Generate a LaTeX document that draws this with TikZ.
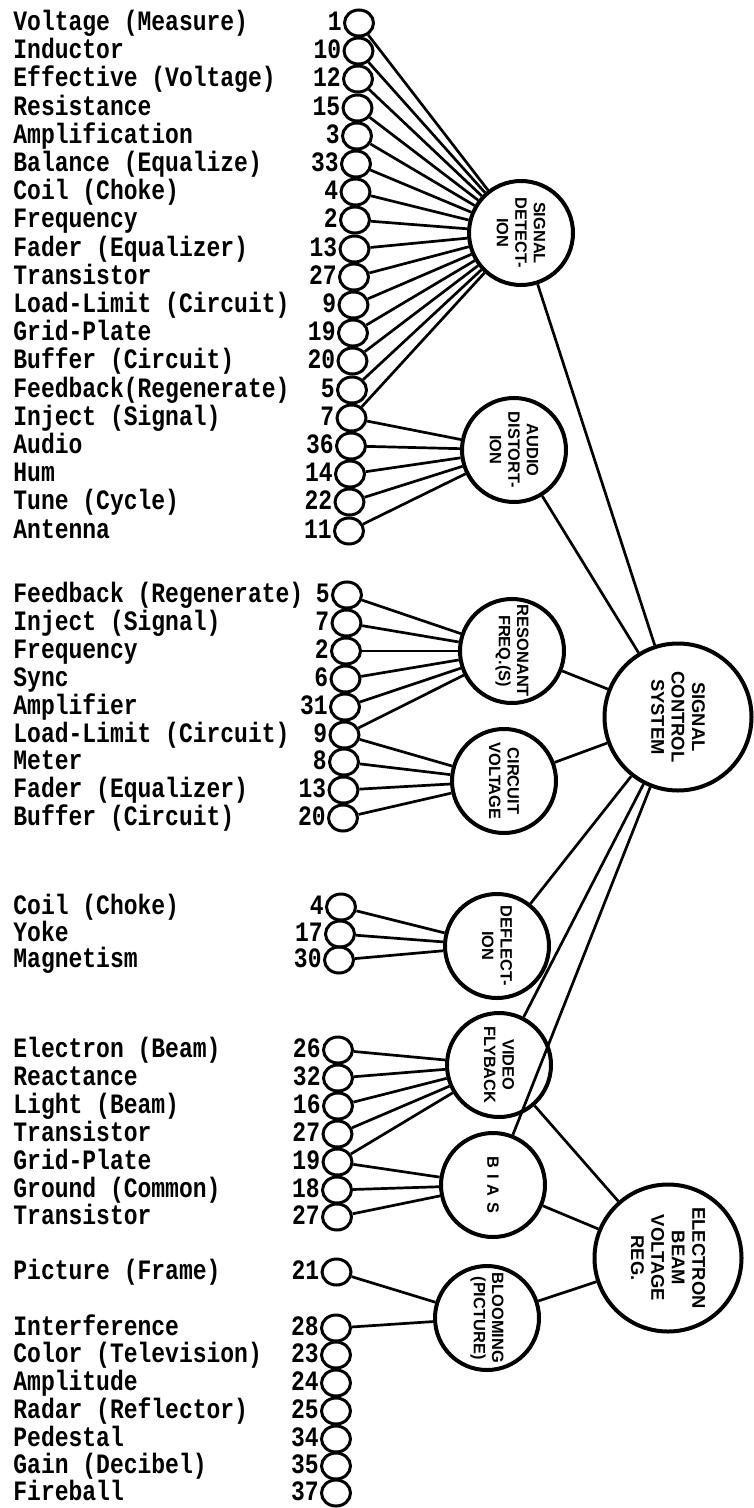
\documentclass[tikz,border=0pt]{standalone}
\usepackage{fontspec}
\setsansfont{Liberation Sans}
\setmonofont{Liberation Mono}
\usepackage{tikz}
\usetikzlibrary{shapes,positioning}

\begin{document}
\begin{tikzpicture}[x=0.5pt, y=-0.5pt]
			\tikzstyle{Term} 	= [ellipse, draw, line width=1.5pt, minimum width=14.5pt, minimum height=13pt, inner sep=0pt]
			\tikzstyle{Word}	= [anchor=west, inner sep=0pt, yscale=1.22, font=\ttfamily\bfseries\fontsize{11.5}{12}\selectfont, text height=8pt, text depth=1.5pt]
			\tikzstyle{every label}	= [inner sep=0.5pt, yscale=1.22, font=\ttfamily\bfseries\fontsize{11.5}{12}\selectfont, text height=8pt, text depth=1.5pt]
			\tikzstyle{Hub}		= [circle, draw, line width=2pt, minimum size=52pt, inner sep=0pt, rotate=-90, align=center, font=\sffamily\bfseries\fontsize{8.2}{9.2}\selectfont]
			\tikzstyle{BigHub}	= [Hub, minimum size=73.5pt, font=\sffamily\bfseries\fontsize{9.2}{10.2}\selectfont]
			\tikzstyle{Link}	= [line width=1.35pt]

			\useasboundingbox (0,0) rectangle (754,1508);

			% first column block
			\node (w1) at (13, 23) [Word] {Voltage (Measure)};
			\node (t1) at (359, 23) [Term, label={[name=n1]left:1}] {};
			\node (w10) at (13, 51) [Word] {Inductor};
			\node (t10) at (358.5, 51) [Term, label={[name=n10]left:10}] {};
			\node (w12) at (13, 79) [Word] {Effective (Voltage)};
			\node (t12) at (358, 79) [Term, label={[name=n12]left:12}] {};
			\node (w15) at (13, 108) [Word] {Resistance};
			\node (t15) at (357.5, 108) [Term, label={[name=n15]left:15}] {};
			\node (w3) at (13, 136) [Word] {Amplification};
			\node (t3) at (357, 136) [Term, label={[name=n3]left:3}] {};
			\node (w33) at (13, 164) [Word] {Balance (Equalize)};
			\node (t33) at (356, 164) [Term, label={[name=n33]left:33}] {};
			\node (w4) at (13, 192) [Word] {Coil (Choke)};
			\node (t4) at (355.5, 192) [Term, label={[name=n4]left:4}] {};
			\node (w2) at (13, 220) [Word] {Frequency};
			\node (t2) at (355, 220) [Term, label={[name=n2]left:2}] {};
			\node (w13) at (13, 249) [Word] {Fader (Equalizer)};
			\node (t13) at (354.5, 249) [Term, label={[name=n13]left:13}] {};
			\node (w27) at (13, 277) [Word] {Transistor};
			\node (t27) at (354, 277) [Term, label={[name=n27]left:27}] {};
			\node (w9) at (13, 305) [Word] {Load-Limit (Circuit)};
			\node (t9) at (353.5, 305) [Term, label={[name=n9]left:9}] {};
			\node (w19) at (13, 333) [Word] {Grid-Plate};
			\node (t19) at (353, 333) [Term, label={[name=n19]left:19}] {};
			\node (w20) at (13, 361) [Word] {Buffer (Circuit)};
			\node (t20) at (352.5, 361) [Term, label={[name=n20]left:20}] {};
			\node (w5) at (13, 390) [Word] {Feedback(Regenerate)};
			\node (t5) at (352, 390) [Term, label={[name=n5]left:5}] {};
			\node (w7) at (13, 418) [Word] {Inject (Signal)};
			\node (t7) at (351.5, 418) [Term, label={[name=n7]left:7}] {};
			\node (w36) at (13, 446) [Word] {Audio};
			\node (t36) at (351, 446) [Term, label={[name=n36]left:36}] {};
			\node (w14) at (13, 474) [Word] {Hum};
			\node (t14) at (350, 474) [Term, label={[name=n14]left:14}] {};
			\node (w22) at (13, 502) [Word] {Tune (Cycle)};
			\node (t22) at (349.5, 502) [Term, label={[name=n22]left:22}] {};
			\node (w11) at (13, 531) [Word] {Antenna};
			\node (t11) at (349, 531) [Term, label={[name=n11]left:11}] {};

			% second block
			\node (w5b) at (13, 595) [Word] {Feedback (Regenerate)};
			\node (t5b) at (347, 595) [Term, label={[name=n5b]left:5}] {};
			\node (w7b) at (13, 623) [Word] {Inject (Signal)};
			\node (t7b) at (346.5, 623) [Term, label={[name=n7b]left:7}] {};
			\node (w2b) at (13, 651) [Word] {Frequency};
			\node (t2b) at (346, 651) [Term, label={[name=n2b]left:2}] {};
			\node (w6) at (13, 679) [Word] {Sync};
			\node (t6) at (345.5, 679) [Term, label={[name=n6]left:6}] {};
			\node (w31) at (13, 707) [Word] {Amplifier};
			\node (t31) at (345, 707) [Term, label={[name=n31]left:31}] {};
			\node (w9b) at (13, 735) [Word] {Load-Limit (Circuit)};
			\node (t9b) at (344.5, 735) [Term, label={[name=n9b]left:9}] {};
			\node (w8) at (13, 762) [Word] {Meter};
			\node (t8) at (344, 762) [Term, label={[name=n8]left:8}] {};
			\node (w13b) at (13, 790) [Word] {Fader (Equalizer)};
			\node (t13b) at (343.5, 790) [Term, label={[name=n13b]left:13}] {};
			\node (w20b) at (13, 818) [Word] {Buffer (Circuit)};
			\node (t20b) at (343, 818) [Term, label={[name=n20b]left:20}] {};

			% third block
			\node (w4b) at (13, 907) [Word] {Coil (Choke)};
			\node (t4b) at (341, 907) [Term, label={[name=n4b]left:4}] {};
			\node (w17) at (13, 934) [Word] {Yoke};
			\node (t17) at (340, 934) [Term, label={[name=n17]left:17}] {};
			\node (w30) at (13, 960) [Word] {Magnetism};
			\node (t30) at (339, 960) [Term, label={[name=n30]left:30}] {};

			% fourth block
			\node (w26) at (13, 1050) [Word] {Electron (Beam)};
			\node (t26) at (338, 1050) [Term, label={[name=n26]left:26}] {};
			\node (w32) at (13, 1078) [Word] {Reactance};
			\node (t32) at (338, 1078) [Term, label={[name=n32]left:32}] {};
			\node (w16) at (13, 1106) [Word] {Light (Beam)};
			\node (t16) at (338, 1106) [Term, label={[name=n16]left:16}] {};
			\node (w27b) at (13, 1134) [Word] {Transistor};
			\node (t27b) at (337.5, 1134) [Term, label={[name=n27b]left:27}] {};
			\node (w19b) at (13, 1162) [Word] {Grid-Plate};
			\node (t19b) at (337.5, 1162) [Term, label={[name=n19b]left:19}] {};
			\node (w18) at (13, 1190) [Word] {Ground (Common)};
			\node (t18) at (337, 1190) [Term, label={[name=n18]left:18}] {};
			\node (w27c) at (13, 1217) [Word] {Transistor};
			\node (t27c) at (337, 1217) [Term, label={[name=n27c]left:27}] {};

			\node (w21) at (13, 1272) [Word] {Picture (Frame)};
			\node (t21) at (336.5, 1272) [Term, label={[name=n21]left:21}] {};

			% last block
			\node (w28) at (13, 1328) [Word] {Interference};
			\node (t28) at (336, 1328) [Term, label={[name=n28]left:28}] {};
			\node (w23) at (13, 1355) [Word] {Color (Television)};
			\node (t23) at (336, 1355) [Term, label={[name=n23]left:23}] {};
			\node (w24) at (13, 1383) [Word] {Amplitude};
			\node (t24) at (336, 1383) [Term, label={[name=n24]left:24}] {};
			\node (w25) at (13, 1411) [Word] {Radar (Reflector)};
			\node (t25) at (336, 1411) [Term, label={[name=n25]left:25}] {};
			\node (w34) at (13, 1439) [Word] {Pedestal};
			\node (t34) at (336, 1439) [Term, label={[name=n34]left:34}] {};
			\node (w35) at (13, 1466) [Word] {Gain (Decibel)};
			\node (t35) at (336, 1466) [Term, label={[name=n35]left:35}] {};
			\node (w37) at (13, 1493) [Word] {Fireball};
			\node (t37) at (336, 1493) [Term, label={[name=n37]left:37}] {};

			% hubs
			\node (sd) at (521, 233) [Hub] {SIGNAL\\DETECT-\\ION};
			\node (ad) at (514, 450) [Hub] {AUDIO\\DISTORT-\\ION};
			\node (rf) at (512, 651) [Hub] {RESONANT\\FREQ.(S)};
			\node (cv) at (504, 781) [Hub] {CIRCUIT\\VOLTAGE};
			\node (df) at (497, 946) [Hub] {DEFLECT-\\ION};
			\node (vf) at (499, 1065) [Hub] {VIDEO\\FLYBACK};
			\node (bi) at (493, 1185) [Hub] {B\kern3pt I\kern3pt A\kern3pt S};
			\node (bl) at (487, 1318) [Hub] {BLOOMING\\(PICTURE)};
			\node (scs) at (678, 717) [BigHub] {SIGNAL\\CONTROL\\SYSTEM};
			\node (eb) at (668, 1258) [BigHub] {ELECTRON\\BEAM\\VOLTAGE\\REG.};

			\draw [-] (t1) to (sd) [Link];
			\draw [-] (t10) to (sd) [Link];
			\draw [-] (t12) to (sd) [Link];
			\draw [-] (t15) to (sd) [Link];
			\draw [-] (t3) to (sd) [Link];
			\draw [-] (t33) to (sd) [Link];
			\draw [-] (t4) to (sd) [Link];
			\draw [-] (t2) to (sd) [Link];
			\draw [-] (t13) to (sd) [Link];
			\draw [-] (t27) to (sd) [Link];
			\draw [-] (t9) to (sd) [Link];
			\draw [-] (t19) to (sd) [Link];
			\draw [-] (t20) to (sd) [Link];
			\draw [-] (t5) to (sd) [Link];
			\draw [-] (t7) to (sd) [Link];

			\draw [-] (t7) to (ad) [Link];
			\draw [-] (t36) to (ad) [Link];
			\draw [-] (t14) to (ad) [Link];
			\draw [-] (t22) to (ad) [Link];
			\draw [-] (t11) to (ad) [Link];

			\draw [-] (t5b) to (rf) [Link];
			\draw [-] (t7b) to (rf) [Link];
			\draw [-] (t2b) to (rf) [Link];
			\draw [-] (t6) to (rf) [Link];
			\draw [-] (t31) to (rf) [Link];
			\draw [-] (t9b) to (rf) [Link];

			\draw [-] (t9b) to (cv) [Link];
			\draw [-] (t8) to (cv) [Link];
			\draw [-] (t13b) to (cv) [Link];
			\draw [-] (t20b) to (cv) [Link];

			\draw [-] (t4b) to (df) [Link];
			\draw [-] (t17) to (df) [Link];
			\draw [-] (t30) to (df) [Link];

			\draw [-] (t26) to (vf) [Link];
			\draw [-] (t32) to (vf) [Link];
			\draw [-] (t16) to (vf) [Link];
			\draw [-] (t27b) to (vf) [Link];
			\draw [-] (t19b) to (vf) [Link];

			\draw [-] (t19b) to (bi) [Link];
			\draw [-] (t18) to (bi) [Link];
			\draw [-] (t27c) to (bi) [Link];

			\draw [-] (t21) to (bl) [Link];
			\draw [-] (t28) to (bl) [Link];

			\draw [-] (sd) to (scs) [Link];
			\draw [-] (ad) to (scs) [Link];
			\draw [-] (rf) to (scs) [Link];
			\draw [-] (cv) to (scs) [Link];
			\draw [-] (df) to (scs) [Link];
			\draw [-] (vf) to (scs) [Link];
			\draw [-] (bi) to (scs) [Link];
			\draw [-] (vf) to (eb) [Link];
			\draw [-] (bi) to (eb) [Link];
			\draw [-] (bl) to (eb) [Link];
		\end{tikzpicture}
\end{document}
